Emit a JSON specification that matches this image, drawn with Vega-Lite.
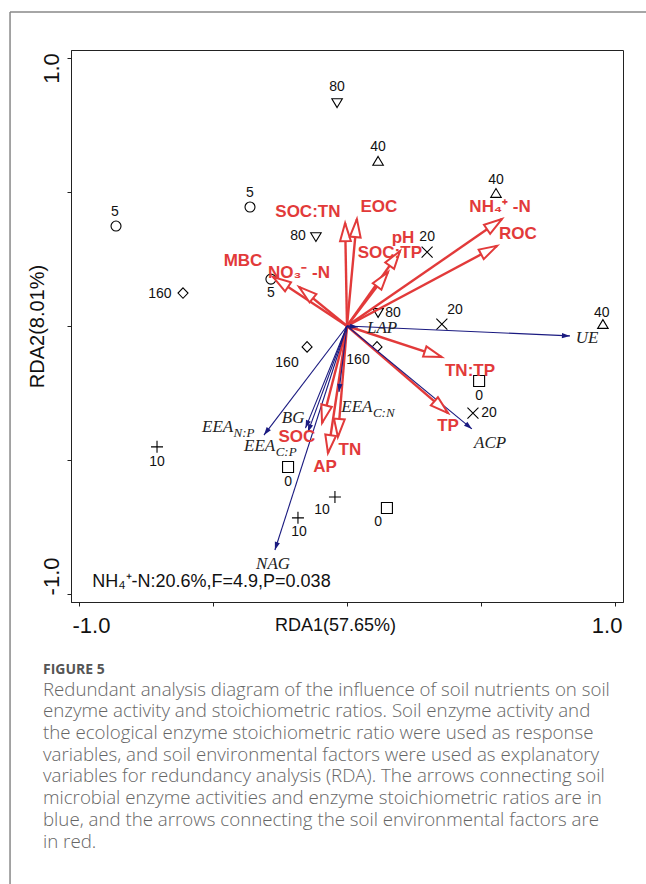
{
  "$schema": "https://vega.github.io/schema/vega-lite/v6.json",
  "width": 552,
  "height": 552,
  "autosize": {"type": "none"},
  "padding": {"left": 71, "top": 50, "right": 23, "bottom": 282},
  "background": "white",
  "config": {
    "view": {"stroke": "#222", "strokeWidth": 1},
    "font": "Liberation Sans"
  },
  "title": {
    "text": "FIGURE 5",
    "subtitle": [
      "Redundant analysis diagram of the influence of soil nutrients on soil",
      "enzyme activity and stoichiometric ratios. Soil enzyme activity and",
      "the ecological enzyme stoichiometric ratio were used as response",
      "variables, and soil environmental factors were used as explanatory",
      "variables for redundancy analysis (RDA). The arrows connecting soil",
      "microbial enzyme activities and enzyme stoichiometric ratios are in",
      "blue, and the arrows connecting the soil environmental factors are",
      "in red."
    ],
    "orient": "bottom",
    "anchor": "start",
    "frame": "group",
    "baseline": "top",
    "dx": -28,
    "offset": -222,
    "font": "Open Sans",
    "fontSize": 14,
    "fontWeight": "bold",
    "color": "#555",
    "subtitleFont": "Open Sans",
    "subtitleFontSize": 18.7,
    "subtitleFontWeight": 300,
    "subtitleColor": "#666",
    "subtitleLineHeight": 21.7,
    "subtitlePadding": 4
  },
  "datasets": {
    "sites": [
      {"g": "80", "x": -0.037, "y": 0.832, "lx": -0.037, "ly": 0.892},
      {"g": "5", "x": -0.362, "y": 0.444, "lx": -0.362, "ly": 0.496},
      {"g": "5", "x": -0.862, "y": 0.373, "lx": -0.866, "ly": 0.425},
      {"g": "80", "x": -0.116, "y": 0.332, "lx": -0.183, "ly": 0.336},
      {"g": "160", "x": -0.612, "y": 0.123, "lx": -0.698, "ly": 0.119},
      {"g": "5", "x": -0.284, "y": 0.175, "lx": -0.284, "ly": 0.123},
      {"g": "40", "x": 0.116, "y": 0.616, "lx": 0.116, "ly": 0.668},
      {"g": "40", "x": 0.556, "y": 0.496, "lx": 0.556, "ly": 0.545},
      {"g": "20", "x": 0.299, "y": 0.276, "lx": 0.299, "ly": 0.332},
      {"g": "80", "x": 0.116, "y": 0.049, "lx": 0.172, "ly": 0.049},
      {"g": "20", "x": 0.354, "y": 0.007, "lx": 0.403, "ly": 0.06},
      {"g": "40", "x": 0.955, "y": 0.007, "lx": 0.951, "ly": 0.049},
      {"g": "160", "x": -0.149, "y": -0.078, "lx": -0.224, "ly": -0.138},
      {"g": "160", "x": 0.112, "y": -0.078, "lx": 0.041, "ly": -0.127},
      {"g": "10", "x": -0.709, "y": -0.451, "lx": -0.709, "ly": -0.507},
      {"g": "0", "x": -0.22, "y": -0.526, "lx": -0.22, "ly": -0.582},
      {"g": "10", "x": -0.045, "y": -0.638, "lx": -0.093, "ly": -0.687},
      {"g": "10", "x": -0.183, "y": -0.716, "lx": -0.179, "ly": -0.769},
      {"g": "0", "x": 0.493, "y": -0.205, "lx": 0.493, "ly": -0.261},
      {"g": "20", "x": 0.47, "y": -0.325, "lx": 0.53, "ly": -0.325},
      {"g": "0", "x": 0.149, "y": -0.679, "lx": 0.116, "ly": -0.731}
    ],
    "arrows": [
      {"t": "SOC:TN", "kind": "env", "x": -0.007, "y": 0.384, "lx": -0.146, "ly": 0.425},
      {"t": "EOC", "kind": "env", "x": 0.037, "y": 0.399, "lx": 0.119, "ly": 0.444},
      {"t": "pH", "kind": "env", "x": 0.198, "y": 0.28, "lx": 0.209, "ly": 0.328},
      {"t": "SOC:TP", "kind": "env", "x": 0.153, "y": 0.201, "lx": 0.16, "ly": 0.272},
      {"t": "NH₄⁺ -N", "kind": "env", "x": 0.578, "y": 0.399, "lx": 0.571, "ly": 0.444},
      {"t": "ROC", "kind": "env", "x": 0.56, "y": 0.299, "lx": 0.638, "ly": 0.343},
      {"t": "MBC", "kind": "env", "x": -0.276, "y": 0.183, "lx": -0.388, "ly": 0.243},
      {"t": "NO₃⁻ -N", "kind": "env", "x": -0.179, "y": 0.146, "lx": -0.179, "ly": 0.198},
      {"t": "TN:TP", "kind": "env", "x": 0.354, "y": -0.116, "lx": 0.459, "ly": -0.168},
      {"t": "TP", "kind": "env", "x": 0.377, "y": -0.325, "lx": 0.377, "ly": -0.373},
      {"t": "SOC", "kind": "env", "x": -0.093, "y": -0.362, "lx": -0.187, "ly": -0.414},
      {"t": "TN", "kind": "env", "x": -0.034, "y": -0.414, "lx": 0.011, "ly": -0.463},
      {"t": "AP", "kind": "env", "x": -0.071, "y": -0.474, "lx": -0.082, "ly": -0.526},
      {"t": "UE", "kind": "enz", "x": 0.832, "y": -0.037, "lx": 0.896, "ly": -0.045},
      {"t": "LAP", "kind": "enz", "x": 0.041, "y": -0.004, "lx": 0.131, "ly": -0.007},
      {"t": "ACP", "kind": "enz", "x": 0.466, "y": -0.384, "lx": 0.534, "ly": -0.437},
      {"t": "EEA", "sub": "C:N", "kind": "enz", "x": -0.03, "y": -0.246, "lx": 0.037, "ly": -0.302},
      {"t": "EEA", "sub": "N:P", "kind": "enz", "x": -0.31, "y": -0.407, "lx": -0.483, "ly": -0.377},
      {"t": "BG", "kind": "enz", "x": -0.146, "y": -0.396, "lx": -0.201, "ly": -0.343},
      {"t": "EEA", "sub": "C:P", "kind": "enz", "x": -0.155, "y": -0.381, "lx": -0.326, "ly": -0.448},
      {"t": "NAG", "kind": "enz", "x": -0.269, "y": -0.836, "lx": -0.276, "ly": -0.888}
    ],
    "notes": [
      {"t": "NH₄⁺-N:20.6%,F=4.9,P=0.038", "lx": -0.951, "ly": -0.974}
    ],
    "frame": [
      {"x": -1.2575, "y": 1.1716, "x2": -1.2575, "y2": -2.0821},
      {"x": -1.2575, "y": 1.1716, "x2": 1.2, "y2": 1.1716}
    ]
  },
  "layer": [
    {
      "data": {"name": "sites"},
      "mark": {"type": "point", "filled": false, "color": "black", "strokeWidth": 1.1, "size": 100, "opacity": 1},
      "encoding": {
        "x": {
          "field": "x", "type": "quantitative",
          "scale": {"domain": [-1.03, 1.03], "nice": false, "zero": false, "clamp": false},
          "axis": {
            "title": "RDA1(57.65%)",
            "values": [-1, -0.5, 0, 0.5, 1],
            "labelExpr": "datum.value == 1 ? '1.0' : datum.value == -1 ? '-1.0' : ''",
            "labelFlush": 12,
            "labelFlushOffset": 7,
            "labelOverlap": false,
            "labelFont": "Liberation Sans",
            "labelFontSize": 22,
            "labelColor": "#111",
            "labelPadding": 9,
            "tickSize": 4,
            "tickColor": "#222",
            "domainColor": "#222",
            "grid": false,
            "titleFont": "Liberation Sans",
            "titleFontSize": 18,
            "titleFontWeight": "normal",
            "titleColor": "#111",
            "titleBaseline": "middle",
            "titleAlign": "center",
            "titleX": 264,
            "titleY": 23
          }
        },
        "y": {
          "field": "y", "type": "quantitative",
          "scale": {"domain": [-1.03, 1.03], "nice": false, "zero": false, "clamp": false},
          "axis": {
            "title": "RDA2(8.01%)",
            "values": [-1, -0.5, 0, 0.5, 1],
            "labelExpr": "datum.value == 1 ? '1.0' : datum.value == -1 ? '-1.0' : ''",
            "labelOverlap": false,
            "labelAngle": -90,
            "labelAlign": "center",
            "labelBaseline": "alphabetic",
            "labelOffset": {"condition": {"test": "datum.value == 1", "value": 10}, "value": -18},
            "labelFont": "Liberation Sans",
            "labelFontSize": 22,
            "labelColor": "#111",
            "labelPadding": 9,
            "tickSize": 4,
            "tickColor": "#222",
            "domainColor": "#222",
            "grid": false,
            "titleFont": "Liberation Sans",
            "titleFontSize": 20,
            "titleFontWeight": "normal",
            "titleColor": "#111",
            "titleAngle": -90,
            "titleAlign": "center",
            "titleBaseline": "middle",
            "titleX": -34,
            "titleY": 276
          }
        },
        "shape": {
          "field": "g", "type": "nominal", "legend": null,
          "scale": {
            "domain": ["0", "5", "10", "20", "40", "80", "160"],
            "range": [
              "M-1.1,-1.1L1.1,-1.1L1.1,1.1L-1.1,1.1Z",
              "circle",
              "M-1.2,0L1.2,0M0,-1.2L0,1.2",
              "M-1.1,-1.1L1.1,1.1M-1.1,1.1L1.1,-1.1",
              "M0,-0.9L1.05,0.85L-1.05,0.85Z",
              "M0,0.9L1.05,-0.85L-1.05,-0.85Z",
              "M0,-1.05L1,0L0,1.05L-1,0Z"
            ]
          }
        }
      }
    },
    {
      "data": {"name": "frame"},
      "mark": {"type": "rule", "color": "#888", "strokeWidth": 1.5, "clip": false},
      "encoding": {
        "x": {"field": "x", "type": "quantitative"},
        "y": {"field": "y", "type": "quantitative"},
        "x2": {"field": "x2"},
        "y2": {"field": "y2"}
      }
    },
    {
      "mark": {"type": "rule", "color": "#aaa", "strokeWidth": 1},
      "encoding": {"x": {"datum": 0, "type": "quantitative"}}
    },
    {
      "mark": {"type": "rule", "color": "#aaa", "strokeWidth": 1},
      "encoding": {"y": {"datum": 0, "type": "quantitative"}}
    },
    {
      "data": {"name": "arrows"},
      "transform": [{"filter": "datum.kind == 'env'"}],
      "mark": {"type": "rule", "color": "#e23a3a", "strokeWidth": 2.4},
      "encoding": {
        "x": {"field": "x", "type": "quantitative"},
        "y": {"field": "y", "type": "quantitative"},
        "x2": {"datum": 0},
        "y2": {"datum": 0}
      }
    },
    {
      "data": {"name": "arrows"},
      "transform": [{"filter": "datum.kind == 'enz'"}],
      "mark": {"type": "rule", "color": "#1a1a80", "strokeWidth": 1.1},
      "encoding": {
        "x": {"field": "x", "type": "quantitative"},
        "y": {"field": "y", "type": "quantitative"},
        "x2": {"datum": 0},
        "y2": {"datum": 0}
      }
    },
    {
      "data": {"name": "arrows"},
      "transform": [
        {"filter": "datum.kind == 'env'"},
        {"calculate": "atan2(datum.x, datum.y) * 180 / PI", "as": "ang"}
      ],
      "mark": {"type": "point", "shape": "M0,0L0.3,1L-0.3,1Z", "size": 1296, "filled": true, "fill": "white", "stroke": "#e23a3a", "strokeWidth": 2, "opacity": 1},
      "encoding": {
        "x": {"field": "x", "type": "quantitative"},
        "y": {"field": "y", "type": "quantitative"},
        "angle": {"field": "ang", "type": "quantitative", "scale": null}
      }
    },
    {
      "data": {"name": "arrows"},
      "transform": [
        {"filter": "datum.kind == 'enz'"},
        {"calculate": "atan2(datum.x, datum.y) * 180 / PI", "as": "ang"}
      ],
      "mark": {"type": "point", "shape": "M0,0L0.33,1L-0.33,1Z", "size": 256, "filled": true, "fill": "#1a1a80", "strokeWidth": 0, "opacity": 1},
      "encoding": {
        "x": {"field": "x", "type": "quantitative"},
        "y": {"field": "y", "type": "quantitative"},
        "angle": {"field": "ang", "type": "quantitative", "scale": null}
      }
    },
    {
      "data": {"name": "sites"},
      "mark": {"type": "text", "font": "Liberation Sans", "fontSize": 14, "color": "#111", "align": "center", "baseline": "middle"},
      "encoding": {
        "x": {"field": "lx", "type": "quantitative"},
        "y": {"field": "ly", "type": "quantitative"},
        "text": {"field": "g"}
      }
    },
    {
      "data": {"name": "arrows"},
      "transform": [{"filter": "datum.kind == 'env'"}],
      "mark": {"type": "text", "font": "Liberation Sans", "fontSize": 17, "fontWeight": "bold", "color": "#e23a3a", "align": "center", "baseline": "middle"},
      "encoding": {
        "x": {"field": "lx", "type": "quantitative"},
        "y": {"field": "ly", "type": "quantitative"},
        "text": {"field": "t"}
      }
    },
    {
      "data": {"name": "arrows"},
      "transform": [{"filter": "datum.kind == 'enz'"}],
      "mark": {"type": "text", "font": "Liberation Serif", "fontSize": 17, "fontStyle": "italic", "color": "#222", "align": "center", "baseline": "middle"},
      "encoding": {
        "x": {"field": "lx", "type": "quantitative"},
        "y": {"field": "ly", "type": "quantitative"},
        "text": {"field": "t"}
      }
    },
    {
      "data": {"name": "arrows"},
      "transform": [{"filter": "datum.sub != null"}],
      "mark": {"type": "text", "font": "Liberation Serif", "fontSize": 13, "fontStyle": "italic", "color": "#222", "align": "left", "baseline": "middle", "dx": 16, "dy": 6},
      "encoding": {
        "x": {"field": "lx", "type": "quantitative"},
        "y": {"field": "ly", "type": "quantitative"},
        "text": {"field": "sub"}
      }
    },
    {
      "data": {"name": "notes"},
      "mark": {"type": "text", "font": "Liberation Sans", "fontSize": 18, "color": "#111", "align": "left", "baseline": "alphabetic"},
      "encoding": {
        "x": {"field": "lx", "type": "quantitative"},
        "y": {"field": "ly", "type": "quantitative"},
        "text": {"field": "t"}
      }
    }
  ]
}
